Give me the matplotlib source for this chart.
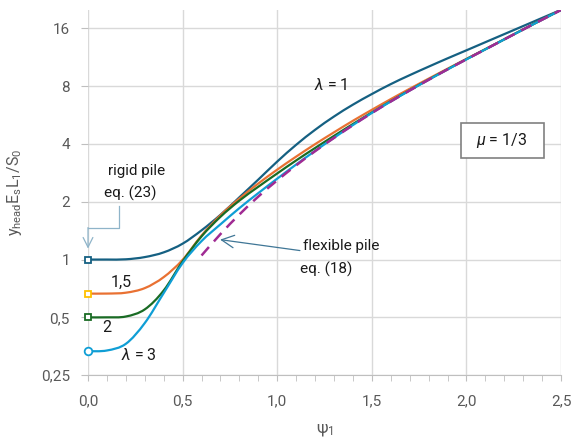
import numpy as np
import matplotlib
matplotlib.use("Agg")
import matplotlib.pyplot as plt
from matplotlib.patches import Rectangle, PathPatch
from matplotlib.path import Path
from matplotlib.ticker import FixedLocator, MultipleLocator, NullFormatter

plt.rcParams['font.family'] = ['Roboto', 'DejaVu Sans']
plt.rcParams['mathtext.fontset'] = 'custom'
plt.rcParams['mathtext.rm'] = 'Roboto'
plt.rcParams['mathtext.it'] = 'Roboto:italic'

# psi_1 values (0.0 .. 2.5 step 0.1)
psi = [0.0, 0.1, 0.2, 0.3, 0.4, 0.5, 0.6, 0.7, 0.8, 0.9, 1.0, 1.1, 1.2,
       1.3, 1.4, 1.5, 1.6, 1.7, 1.8, 1.9, 2.0, 2.1, 2.2, 2.3, 2.4, 2.5]

lam1 = [1.00, 1.00, 1.003, 1.03, 1.09, 1.21, 1.42, 1.71, 2.11, 2.61, 3.24, 3.96, 4.74,
        5.56, 6.41, 7.28, 8.20, 9.13, 10.11, 11.17, 12.30, 13.56, 14.94, 16.46, 18.14, 19.99]
lam15 = [0.665, 0.665, 0.672, 0.710, 0.810, 0.997, 1.334, 1.701, 2.079, 2.490, 2.940, 3.437, 3.990,
         4.599, 5.282, 6.025, 6.849, 7.755, 8.755, 9.864, 11.10, 12.47, 14.04, 15.81, 17.79, 19.99]
lam2 = [0.5, 0.5, 0.505, 0.550, 0.690, 0.979, 1.320, 1.670, 2.028, 2.395, 2.809, 3.283, 3.811,
        4.407, 5.080, 5.836, 6.681, 7.621, 8.652, 9.795, 11.06, 12.46, 14.03, 15.80, 17.78, 19.97]
lam3 = [0.333, 0.336, 0.364, 0.467, 0.669, 0.959, 1.248, 1.526, 1.853, 2.219, 2.639, 3.127, 3.681,
        4.308, 5.018, 5.804, 6.66, 7.60, 8.64, 9.78, 11.04, 12.44, 14.02, 15.79, 17.76, 19.96]

# flexible pile, eq. (18)
psi_flex = [0.6, 0.7, 0.8, 0.9, 1.0, 1.1, 1.2, 1.3, 1.4, 1.5,
            1.6, 1.7, 1.8, 1.9, 2.0, 2.1, 2.2, 2.3, 2.4, 2.5]
flex = [1.05, 1.357, 1.717, 2.129, 2.585, 3.095, 3.668, 4.302, 5.011, 5.796,
        6.658, 7.595, 8.634, 9.781, 11.04, 12.44, 14.02, 15.79, 17.76, 19.96]

yticks = [0.25, 0.5, 1, 2, 4, 8, 16]
ylabels = ["0,25", "0,5", "1", "2", "4", "8", "16"]
xticks = [0.0, 0.5, 1.0, 1.5, 2.0, 2.5]
xlabels = ["0,0", "0,5", "1,0", "1,5", "2,0", "2,5"]

c1, c15, c2, c3, cflex = '#156082', '#E97132', '#196B24', '#0F9ED5', '#A02B93'
grey = '#595959'


def smooth_line(ax, x, y, **kw):
    # Excel-style smoothed line: cubic bezier through the points (in x, log2 y space)
    x = np.asarray(x, float)
    ly = np.log2(np.asarray(y, float))
    n = len(x)
    verts = [(x[0], ly[0])]
    codes = [Path.MOVETO]
    for i in range(n - 1):
        i0 = max(i - 1, 0)
        i3 = min(i + 2, n - 1)
        c1x = x[i] + (x[i + 1] - x[i0]) / 6
        c1y = ly[i] + (ly[i + 1] - ly[i0]) / 6
        c2x = x[i + 1] - (x[i3] - x[i]) / 6
        c2y = ly[i + 1] - (ly[i3] - ly[i]) / 6
        verts += [(c1x, c1y), (c2x, c2y), (x[i + 1], ly[i + 1])]
        codes += [Path.CURVE4] * 3
    verts = [(vx, 2.0 ** vy) for vx, vy in verts]
    patch = PathPatch(Path(verts, codes), facecolor='none', capstyle='butt', **kw)
    ax.add_patch(patch)
    return patch


fig = plt.figure(figsize=(5.79, 4.45), dpi=100)
ax = fig.add_axes([0.152, 0.157, 0.817, 0.821])

ax.set_yscale('log', base=2)
ax.set_ylim(0.25, 20)
ax.set_xlim(0, 2.5)

smooth_line(ax, psi, lam1, edgecolor=c1, lw=1.6, zorder=3)
smooth_line(ax, psi, lam15, edgecolor=c15, lw=1.6, zorder=3)
smooth_line(ax, psi, lam2, edgecolor=c2, lw=1.6, zorder=3)
smooth_line(ax, psi, lam3, edgecolor=c3, lw=1.6, zorder=3)
smooth_line(ax, psi_flex, flex, edgecolor=cflex, lw=1.8, ls=(0, (4.5, 3)), zorder=4)

# rigid pile values at psi = 0
ms = 5
ax.plot(psi[0], lam1[0], 's', ms=ms, mfc='white', mec=c1, mew=1.3, zorder=5, clip_on=False)
ax.plot(psi[0], lam15[0], 's', ms=ms, mfc='white', mec='#FFC000', mew=1.3, zorder=5, clip_on=False)
ax.plot(psi[0], lam2[0], 's', ms=ms, mfc='white', mec=c2, mew=1.3, zorder=5, clip_on=False)
ax.plot(psi[0], lam3[0], 'o', ms=ms + 0.5, mfc='white', mec=c3, mew=1.3, zorder=5, clip_on=False)

ax.yaxis.set_major_locator(FixedLocator(yticks))
ax.set_yticklabels(ylabels)
ax.yaxis.set_minor_formatter(NullFormatter())
ax.yaxis.set_minor_locator(FixedLocator([]))
ax.set_xticks(xticks)
ax.set_xticklabels(xlabels)
ax.xaxis.set_minor_locator(MultipleLocator(0.1))

ax.grid(True, which='major', color='#d9d9d9', lw=1)
for s in ['top', 'right', 'left']:
    ax.spines[s].set_visible(False)
ax.spines['bottom'].set_color('#bfbfbf')
ax.tick_params(axis='both', which='major', labelsize=11, labelcolor=grey, color='#bfbfbf')
ax.tick_params(axis='y', length=5, pad=8)
ax.tick_params(axis='x', length=4, pad=10)
ax.tick_params(axis='x', which='minor', length=4, color='#bfbfbf')

ax.set_ylabel(r"y$_\mathrm{head}$E$_\mathrm{s}$L$_\mathrm{1}$/S$_\mathrm{0}$",
              fontsize=11.5, color=grey, labelpad=12)
ax.set_xlabel("ψ$_\\mathrm{1}$", fontsize=12, color=grey, labelpad=10)

# annotations
tc = '#1a1a1a'
ax.text(0.254, 2.9, "rigid pile", fontsize=11, color=tc, ha='center', va='center')
ax.text(0.222, 2.2, "eq. (23)", fontsize=11, color=tc, ha='center', va='center')
ax.plot([0.164, 0.164, 0.0], [1.91, 1.468, 1.468], color='#8fb4c9', lw=0.9, clip_on=False)
ax.annotate("", xy=(0.0, 1.14), xytext=(0.0, 1.468),
            arrowprops=dict(arrowstyle='->,head_length=0.7,head_width=0.35',
                            color='#8fb4c9', lw=0.9, shrinkA=0, shrinkB=0))

ax.text(1.137, 1.17, "flexible pile", fontsize=11, color=tc, ha='left', va='center')
ax.text(1.12, 0.887, "eq. (18)", fontsize=11, color=tc, ha='left', va='center')
ax.annotate("", xy=(0.698, 1.27), xytext=(1.12, 1.114),
            arrowprops=dict(arrowstyle='->,head_length=0.9,head_width=0.45',
                            color='#3f7696', lw=0.9, shrinkA=0, shrinkB=0))

ax.text(1.284, 8.06, r"$\lambda$ = 1", fontsize=11.5, color=tc, ha='center', va='center')
ax.text(0.174, 0.759, "1,5", fontsize=11.5, color=tc, ha='center', va='center')
ax.text(0.10, 0.443, "2", fontsize=11.5, color=tc, ha='center', va='center')
ax.text(0.27, 0.316, r"$\lambda$ = 3", fontsize=11.5, color=tc, ha='center', va='center')

ax.add_patch(Rectangle((0.789, 0.595), 0.175, 0.095, transform=ax.transAxes,
                       facecolor='white', edgecolor='#808080', lw=1.2, zorder=6))
ax.text(0.875, 0.641, r"$\mu$ = 1/3", transform=ax.transAxes, fontsize=11.5,
        color=tc, ha='center', va='center', zorder=7)

fig.savefig("out.png", dpi=100)
